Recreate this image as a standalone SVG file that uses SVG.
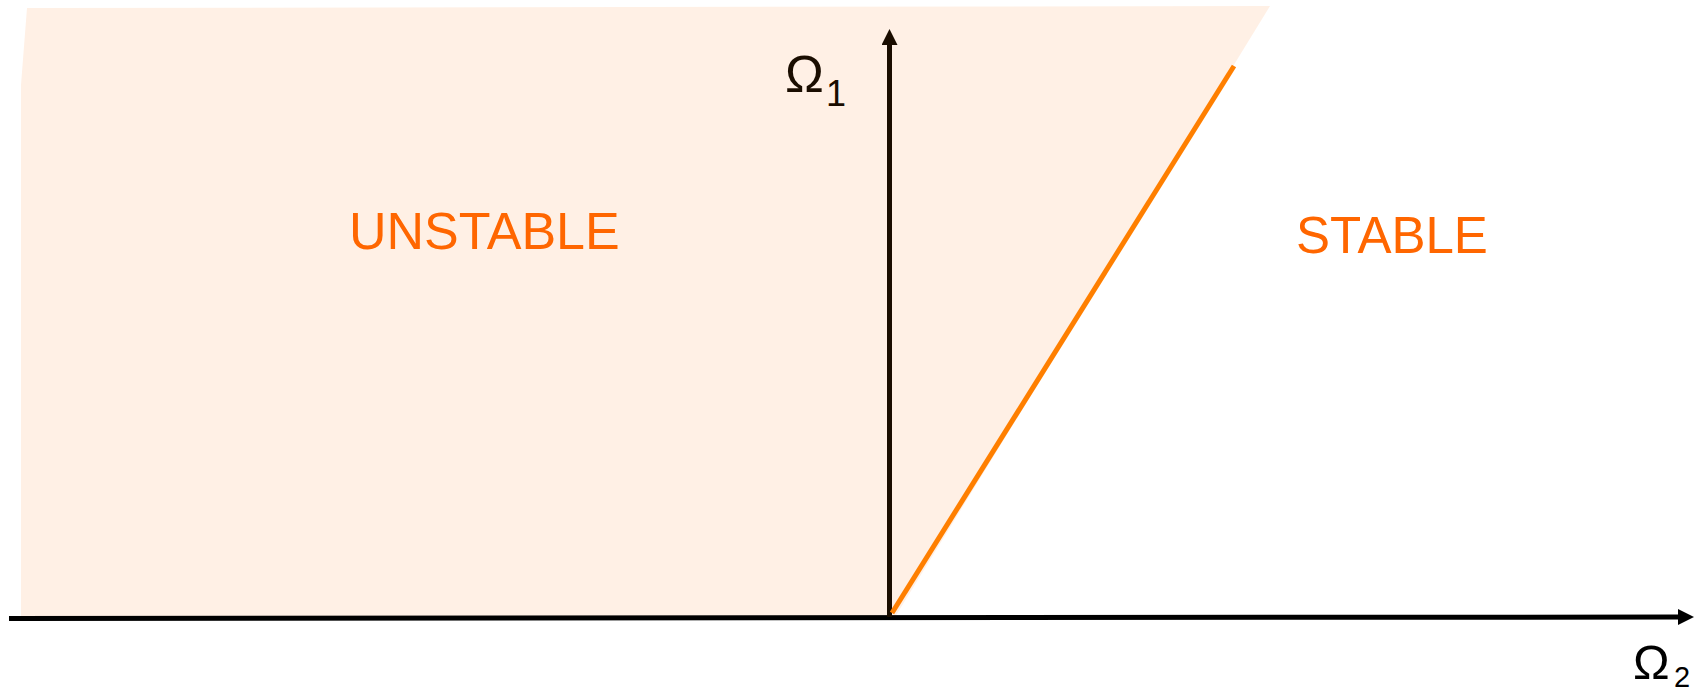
<svg xmlns="http://www.w3.org/2000/svg" width="1704" height="695" viewBox="0 0 1704 695">
<style>
.lbl{font-family:"Liberation Sans",Arial,sans-serif;fill:#FF6600;}
.ax{font-family:"Liberation Sans",Arial,sans-serif;fill:#1a0d00;}
.axis{stroke:#000;stroke-width:5;fill:none;}
</style>
<defs>
<marker id="ah" markerUnits="userSpaceOnUse" markerWidth="16" markerHeight="16" viewBox="0 0 16 16" refX="0" refY="8" orient="auto">
<path d="M0,0 L16,8 L0,16 Z" fill="#000"/>
</marker>
<marker id="ahy" markerUnits="userSpaceOnUse" markerWidth="16" markerHeight="16" viewBox="0 0 16 16" refX="0" refY="8" orient="auto">
<path d="M0,0 L16,8 L0,16 Z" fill="#1a0d00"/>
</marker>
</defs>
<rect width="1704" height="695" fill="#fff"/>
<g id="unstable-region">
<polygon points="27,8 1270,6 895,617 21,617 21,85" fill="#FFF0E5"/>
<text class="lbl" x="349" y="249" font-size="52">UNSTABLE</text>
</g>
<g id="stable-region">
<text class="lbl" x="1296" y="253" font-size="51">STABLE</text>
</g>
<g id="connectors">
<line class="axis" x1="9" y1="618.5" x2="1678" y2="617" marker-end="url(#ah)"/>
<line x1="889.5" y1="617" x2="889.5" y2="45" stroke="#1a0d00" stroke-width="5" marker-end="url(#ahy)"/>
<line x1="892" y1="613" x2="1234" y2="66" stroke="#FF7F00" stroke-width="5"/>
</g>
<g id="omega1">
<text class="ax" x="785" y="92" font-size="52">Ω</text>
<text class="ax" x="826" y="106" font-size="36">1</text>
</g>
<g id="omega2">
<text fill="#000" font-family="Liberation Sans, Arial, sans-serif" x="1633" y="679" font-size="49">Ω</text>
<text fill="#000" font-family="Liberation Sans, Arial, sans-serif" x="1674" y="687" font-size="29">2</text>
</g>
</svg>
